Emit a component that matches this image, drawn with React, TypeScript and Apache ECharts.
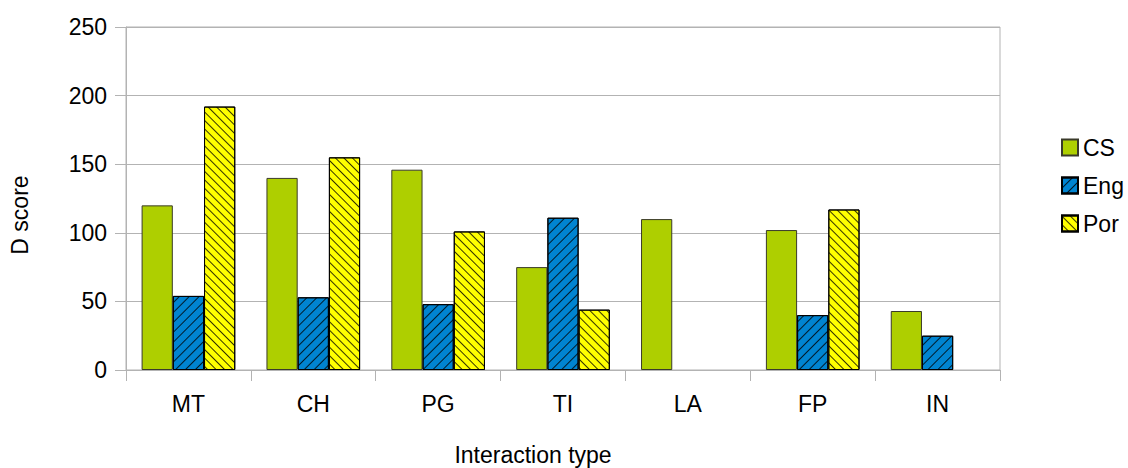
import React, { useEffect, useRef } from "react";
import * as echarts from "echarts";

// Interaction types along the x axis
const categories = ["MT", "CH", "PG", "TI", "LA", "FP", "IN"];

// D scores per group (null = no bar)
const csValues: (number | null)[] = [120, 140, 146, 75, 110, 102, 43];
const engValues: (number | null)[] = [54, 53, 48, 111, null, 40, 25];
const porValues: (number | null)[] = [192, 155, 101, 44, null, 117, null];

const yTicks = { min: 0, max: 250, interval: 50 };

const FONT = "'Liberation Sans', Arial, Helvetica, sans-serif";
const GRID_GRAY = "#b3b3b3";

export default function App() {
  const ref = useRef<HTMLDivElement>(null);

  useEffect(() => {
    document.body.style.margin = "0";
    if (!ref.current) return;
    const chart = echarts.init(ref.current, undefined, { renderer: "svg" });

    const option: echarts.EChartsOption = {
      animation: false,
      backgroundColor: "#ffffff",
      textStyle: { fontFamily: FONT },
      grid: {
        left: 126,
        right: 128,
        top: 27,
        bottom: 98,
        show: true,
        borderColor: GRID_GRAY,
        borderWidth: 1,
        backgroundColor: "transparent",
      },
      legend: {
        orient: "vertical",
        left: 1056,
        top: 131,
        icon: "rect",
        itemWidth: 16,
        itemHeight: 16,
        itemGap: 15,
        textStyle: { fontSize: 23, color: "#000", fontFamily: FONT },
        data: ["CS", "Eng", "Por"],
      },
      xAxis: {
        type: "category",
        data: categories,
        axisLine: { show: true, lineStyle: { color: GRID_GRAY } },
        axisTick: { show: true, length: 11, lineStyle: { color: GRID_GRAY } },
        axisLabel: { fontSize: 23, color: "#000", margin: 22, fontFamily: FONT },
        splitLine: { show: false },
      },
      yAxis: {
        type: "value",
        min: yTicks.min,
        max: yTicks.max,
        interval: yTicks.interval,
        axisLine: { show: true, lineStyle: { color: GRID_GRAY } },
        axisTick: { show: true, length: 11, lineStyle: { color: GRID_GRAY } },
        axisLabel: { fontSize: 23, color: "#000", margin: 19, fontFamily: FONT },
        splitLine: { show: true, lineStyle: { color: GRID_GRAY, width: 1 } },
      },
      graphic: [
        {
          type: "text",
          x: 20,
          y: 215,
          rotation: Math.PI / 2,
          style: {
            text: "D score",
            fontSize: 23,
            fontFamily: FONT,
            fill: "#000",
            textAlign: "center",
            textVerticalAlign: "middle",
          },
        },
        {
          type: "text",
          x: 533,
          y: 455,
          style: {
            text: "Interaction type",
            fontSize: 23,
            fontFamily: FONT,
            fill: "#000",
            textAlign: "center",
            textVerticalAlign: "middle",
          },
        },
      ],
      series: [
        {
          name: "CS",
          type: "bar",
          data: csValues,
          barGap: "0%",
          barCategoryGap: "25%",
          itemStyle: { color: "#aecf00", borderColor: "#3a3a2a", borderWidth: 1 },
        },
        {
          name: "Eng",
          type: "bar",
          data: engValues,
          barGap: "0%",
          barCategoryGap: "25%",
          itemStyle: {
            color: "#0084d1",
            borderColor: "#000",
            borderWidth: 1,
            decal: {
              symbol: "rect",
              symbolSize: 1,
              color: "rgba(0,0,0,0.8)",
              dashArrayX: [1, 0],
              dashArrayY: [1, 5.5],
              rotation: -Math.PI / 4,
            },
          },
        },
        {
          name: "Por",
          type: "bar",
          data: porValues,
          barGap: "0%",
          barCategoryGap: "25%",
          itemStyle: {
            color: "#ffff00",
            borderColor: "#000",
            borderWidth: 1,
            decal: {
              symbol: "rect",
              symbolSize: 1,
              color: "rgba(0,0,0,0.8)",
              dashArrayX: [1, 0],
              dashArrayY: [1, 4.6],
              rotation: Math.PI / 4,
            },
          },
        },
      ],
    };

    chart.setOption(option);
    return () => chart.dispose();
  }, []);

  return <div ref={ref} style={{ width: 1128, height: 468 }} />;
}
